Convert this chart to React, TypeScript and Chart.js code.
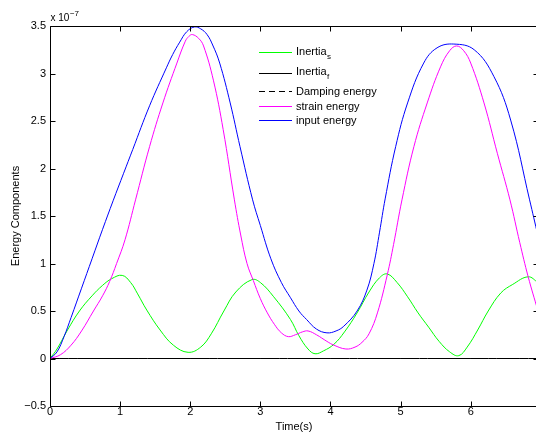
import { useEffect, useRef } from "react";
import { Chart, registerables } from "chart.js";

Chart.register(...registerables);

// Values in units of 1e-7 (axis multiplier "x 10^-7")
const xTicks = [0, 1, 2, 3, 4, 5, 6];
const yTicks = [-0.5, 0, 0.5, 1, 1.5, 2, 2.5, 3, 3.5];
const xMin = 0;
const xMax = 6.96;
const yMin = -0.5;
const yMax = 3.5;

const inertiaS: [number, number][] = [
  [0, 0], [0.1, 0.1], [0.25, 0.3], [0.42, 0.5], [0.6, 0.66], [0.75, 0.77], [0.88, 0.84],
  [1.03, 0.875], [1.15, 0.8], [1.25, 0.68], [1.38, 0.51], [1.57, 0.3], [1.76, 0.14],
  [1.97, 0.065], [2.15, 0.12], [2.3, 0.26], [2.48, 0.5], [2.65, 0.7], [2.88, 0.83],
  [3.0, 0.8], [3.19, 0.65], [3.43, 0.41], [3.55, 0.24], [3.68, 0.1], [3.78, 0.05],
  [3.9, 0.08], [4.05, 0.15], [4.2, 0.28], [4.38, 0.48], [4.55, 0.7], [4.7, 0.85],
  [4.81, 0.89], [4.95, 0.8], [5.1, 0.65], [5.25, 0.48], [5.4, 0.33], [5.55, 0.18],
  [5.7, 0.07], [5.83, 0.03], [5.95, 0.12], [6.1, 0.3], [6.25, 0.5], [6.43, 0.69],
  [6.6, 0.78], [6.82, 0.86], [6.96, 0.8],
];

const inertiaF: [number, number][] = [
  [0, 0], [1, 0], [2, 0], [3, 0], [4, 0], [5, 0], [6, 0], [6.96, 0],
];

const dampingEnergy: [number, number][] = [
  [0, 0], [1, 0], [2, 0], [3, 0], [4, 0], [5, 0], [6, 0], [6.96, 0],
];

const strainEnergy: [number, number][] = [
  [0, 0], [0.15, 0.04], [0.3, 0.14], [0.45, 0.29], [0.62, 0.5], [0.75, 0.66], [0.85, 0.81],
  [0.95, 1.0], [1.07, 1.25], [1.22, 1.67], [1.42, 2.23], [1.61, 2.69], [1.81, 3.11],
  [1.93, 3.34], [1.98, 3.39], [2.03, 3.41], [2.12, 3.37], [2.19, 3.29], [2.33, 2.93],
  [2.47, 2.41], [2.63, 1.67], [2.72, 1.3], [2.81, 1.0], [2.9, 0.82], [3.0, 0.63],
  [3.1, 0.48], [3.2, 0.36], [3.3, 0.27], [3.4, 0.23], [3.5, 0.25], [3.6, 0.28],
  [3.68, 0.29], [3.8, 0.25], [3.95, 0.18], [4.05, 0.14], [4.22, 0.1], [4.35, 0.12],
  [4.45, 0.17], [4.55, 0.26], [4.67, 0.48], [4.81, 0.88], [4.9, 1.2], [5.02, 1.67],
  [5.19, 2.23], [5.38, 2.69], [5.57, 3.07], [5.7, 3.24], [5.8, 3.29], [5.9, 3.24],
  [6.0, 3.11], [6.19, 2.69], [6.38, 2.16], [6.56, 1.67], [6.7, 1.22], [6.82, 0.86],
  [6.96, 0.5],
];

const inputEnergy: [number, number][] = [
  [0, 0], [0.1, 0.07], [0.2, 0.23], [0.3, 0.43], [0.45, 0.74], [0.6, 1.05], [0.75, 1.36],
  [0.9, 1.66], [1.05, 1.95], [1.18, 2.2], [1.42, 2.66], [1.66, 3.06], [1.75, 3.2],
  [1.85, 3.33], [1.95, 3.44], [2.06, 3.49], [2.15, 3.47], [2.24, 3.41], [2.32, 3.3],
  [2.42, 3.11], [2.57, 2.69], [2.71, 2.23], [2.89, 1.67], [3.0, 1.4], [3.15, 1.05],
  [3.3, 0.8], [3.43, 0.64], [3.55, 0.5], [3.66, 0.41], [3.8, 0.31], [3.95, 0.27],
  [4.08, 0.29], [4.19, 0.34], [4.38, 0.5], [4.52, 0.72], [4.62, 1.0], [4.7, 1.33],
  [4.78, 1.68], [4.93, 2.23], [5.1, 2.69], [5.33, 3.11], [5.52, 3.27], [5.76, 3.31],
  [6.05, 3.25], [6.33, 2.97], [6.57, 2.51], [6.84, 1.67], [6.96, 1.29],
];

const seriesNames = ["Inertia", "Inertia", "Damping energy", "strain energy", "input energy"];
const seriesSubs = ["s", "f", "", "", ""];
const seriesColors = ["#00ff00", "#000000", "#000000", "#ff00ff", "#0000ff"];
const seriesDash = [[], [], [6, 4], [], []];

const FONT = "'Liberation Sans', Arial, Helvetica, sans-serif";

const framePlugin = {
  id: "matlabFrame",
  afterDatasetsDraw(chart: any) {
    const { ctx, chartArea: a, scales } = chart;
    const xs = scales.x;
    const ys = scales.y;
    const L = Math.round(a.left) + 0.5;
    const R = Math.round(a.right) + 0.5;
    const T = Math.round(a.top) + 0.5;
    const B = Math.round(a.bottom) + 0.5;
    ctx.save();
    ctx.strokeStyle = "#000";
    ctx.lineWidth = 1;
    ctx.setLineDash([]);
    ctx.beginPath();
    ctx.rect(L, T, R - L, B - T);
    const tl = 5;
    xTicks.forEach((v) => {
      const px = Math.round(xs.getPixelForValue(v)) + 0.5;
      ctx.moveTo(px, B);
      ctx.lineTo(px, B - tl);
      ctx.moveTo(px, T);
      ctx.lineTo(px, T + tl);
    });
    yTicks.forEach((v) => {
      const py = Math.round(ys.getPixelForValue(v)) + 0.5;
      ctx.moveTo(L, py);
      ctx.lineTo(L + tl, py);
      ctx.moveTo(R, py);
      ctx.lineTo(R - tl, py);
    });
    ctx.stroke();

    // exponent multiplier
    ctx.fillStyle = "#000";
    ctx.textAlign = "left";
    ctx.textBaseline = "alphabetic";
    ctx.font = `10px ${FONT}`;
    const base = "x 10";
    ctx.fillText(base, a.left + 0.5, 21);
    const bw = ctx.measureText(base).width;
    ctx.font = `8px ${FONT}`;
    ctx.fillText("\u22127", a.left + 0.5 + bw + 0.5, 15.5);

    // legend
    const lineX0 = 259;
    const lineX1 = 292;
    const textX = 296;
    const lineYs = [52, 72.5, 91, 105.5, 120];
    const baseYs = [54.5, 74.5, 95, 109.5, 124];
    seriesNames.forEach((name, i) => {
      ctx.beginPath();
      ctx.strokeStyle = seriesColors[i];
      ctx.lineWidth = 1;
      ctx.setLineDash(seriesDash[i]);
      const ly = Math.round(lineYs[i]) + 0.5;
      ctx.moveTo(lineX0, ly);
      ctx.lineTo(lineX1, ly);
      ctx.stroke();
      ctx.setLineDash([]);
      ctx.font = `11px ${FONT}`;
      ctx.fillStyle = "#000";
      ctx.fillText(name, textX, baseYs[i]);
      if (seriesSubs[i]) {
        const w = ctx.measureText(name).width;
        ctx.font = `8px ${FONT}`;
        ctx.fillText(seriesSubs[i], textX + w + 0.5, baseYs[i] + 4.5);
      }
    });
    ctx.restore();
  },
};

export default function App() {
  const ref = useRef<HTMLCanvasElement>(null);

  useEffect(() => {
    if (!ref.current) return;
    Chart.defaults.font.family = FONT;
    Chart.defaults.font.size = 11;
    Chart.defaults.color = "#000";
    const all = [inertiaS, inertiaF, dampingEnergy, strainEnergy, inputEnergy];
    const datasets = all.map((pts, i) => ({
      label: seriesNames[i] + (seriesSubs[i] ? "_" + seriesSubs[i] : ""),
      data: pts.map(([x, y]) => ({ x, y })),
      borderColor: seriesColors[i],
      backgroundColor: seriesColors[i],
      borderWidth: 1,
      borderDash: seriesDash[i],
      pointRadius: 0,
      fill: false,
      tension: 0.4,
      order: all.length - i,
    }));
    const chart = new Chart(ref.current, {
      type: "line",
      data: { datasets },
      options: {
        animation: false,
        responsive: false,
        devicePixelRatio: 1,
        events: [],
        layout: { padding: { left: 0, right: 7, top: 26, bottom: 0 } },
        plugins: {
          legend: { display: false },
          tooltip: { enabled: false },
          title: { display: false },
        },
        scales: {
          x: {
            type: "linear",
            min: xMin,
            max: xMax,
            grid: { display: false, drawTicks: false },
            border: { display: false },
            afterBuildTicks: (s: any) => {
              s.ticks = xTicks.map((v) => ({ value: v }));
            },
            afterFit: (s: any) => {
              s.height = 34;
            },
            ticks: {
              padding: 0,
              maxRotation: 0,
              autoSkip: false,
              font: { size: 11, lineHeight: 1 },
              callback: (v: any) => String(v),
            },
            title: {
              display: true,
              text: "Time(s)",
              font: { size: 11, lineHeight: 1 },
              padding: { top: 0, bottom: 7.5 },
            },
          },
          y: {
            type: "linear",
            min: yMin,
            max: yMax,
            grid: { display: false, drawTicks: false },
            border: { display: false },
            afterBuildTicks: (s: any) => {
              s.ticks = yTicks.map((v) => ({ value: v }));
            },
            afterFit: (s: any) => {
              s.width = 50;
            },
            ticks: {
              padding: 4,
              autoSkip: false,
              font: { size: 11, lineHeight: 1 },
              callback: (v: any) => (v < 0 ? "\u2212" + String(Math.abs(v)) : String(v)),
            },
            title: {
              display: true,
              text: "Energy Components",
              font: { size: 11, lineHeight: 1 },
              padding: { top: 10, bottom: 0 },
            },
          },
        },
      },
      plugins: [framePlugin],
    });
    return () => chart.destroy();
  }, []);

  return (
    <div
      style={{
        position: "fixed",
        left: 0,
        top: 0,
        width: 536,
        height: 432,
        overflow: "hidden",
        background: "#fff",
      }}
    >
      <canvas ref={ref} width={545} height={440} style={{ display: "block", width: 545, height: 440 }} />
    </div>
  );
}
